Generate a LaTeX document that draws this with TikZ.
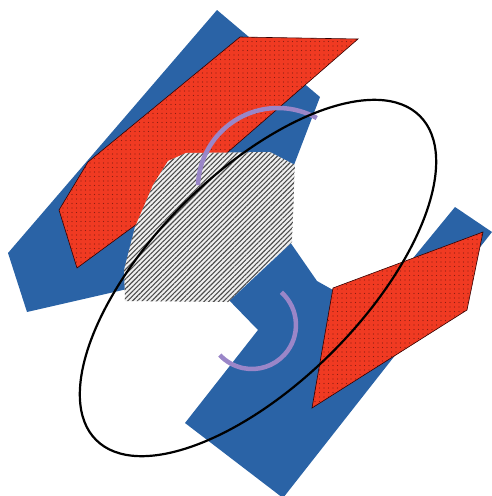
\documentclass[tikz,border=0pt]{standalone}
\usetikzlibrary{patterns.meta}
\definecolor{bandblue}{HTML}{2A63A6}
\definecolor{redfill}{HTML}{F03A22}
\definecolor{reddot}{HTML}{8A1E12}
\definecolor{lavender}{HTML}{9A86C8}
\tikzset{
  bluepart/.style={fill=bandblue},
  redpart/.style={draw=black!80!red, line width=0.6pt, preaction={fill=redfill},
    pattern={Dots[distance=4.5pt, radius=0.7pt]}, pattern color=reddot},
  hatchpart/.style={preaction={fill=white!94!black},
    pattern={Lines[angle=45, distance=3.4pt, line width=1.1pt]}, pattern color=black!70},
  arcline/.style={draw=lavender, line width=4.5pt},
  ringline/.style={draw=black, line width=2.2pt}
}
\begin{document}
\begin{tikzpicture}[x=1pt, y=-1pt]
\useasboundingbox (0,0) rectangle (491,496);
% blue Z-shaped band
\path[bluepart] (217,10) -- (320,97) -- (294,165) -- (290,242) -- (317,281) -- (333,290)
  -- (359,324) -- (455,207) -- (492,232) -- (283,498) -- (185,423) -- (258,330)
  -- (225,296) -- (160,282) -- (123,290) -- (27,312) -- (8,253) -- cycle;
% red upper hexagon
\path[redpart] (240,37) -- (358,39) -- (190,185) -- (77,268) -- (59,210) -- (88,162) -- cycle;
% red lower parallelogram
\path[redpart] (333,288) -- (483,232) -- (467,310) -- (312,408) -- cycle;
% hatched polygon
\path[hatchpart] (186,153) -- (270,152) -- (295,165) -- (292,242) -- (228,302) -- (125,301)
  -- (124,270) -- (135,227) -- (153,185) -- (168,161) -- cycle;
% lavender arcs
\draw[arcline] (198,185.2) arc[start angle=182, end angle=299, radius=80];
\draw[arcline] (281.4,292.3) arc[start angle=-48, end angle=137, radius=44];
% black ellipse
\draw[ringline, rotate around={45:(258,278)}] (258,278) ellipse[x radius=229, y radius=105];
\end{tikzpicture}
\end{document}
